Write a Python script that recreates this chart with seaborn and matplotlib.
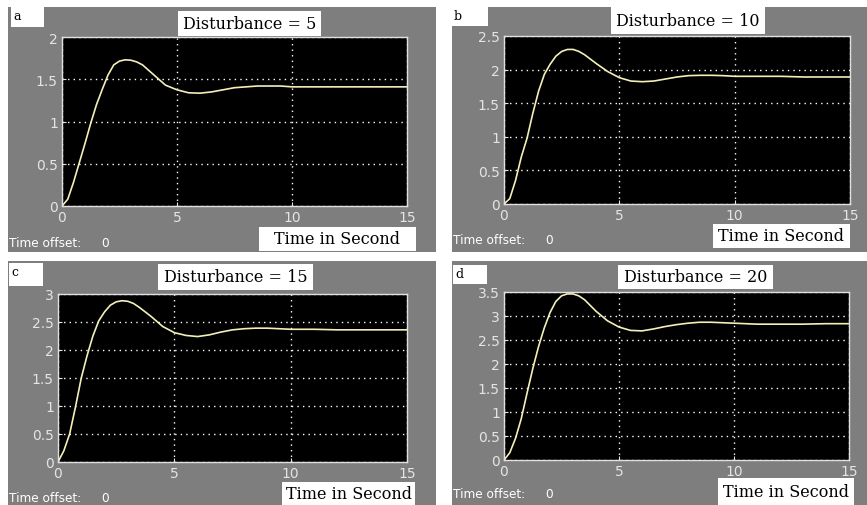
import pandas as pd
import matplotlib
matplotlib.use("Agg")
import matplotlib.pyplot as plt
from matplotlib.patches import Rectangle
import seaborn as sns

# values
time_s = [0, 0.25, 0.5, 0.75, 1, 1.25, 1.5, 1.75, 2, 2.25, 2.5, 2.75, 3, 3.25, 3.5,
          4, 4.5, 5, 5.5, 6, 6.5, 7, 7.5, 8, 8.5, 9, 9.5, 10, 11, 12, 13, 14, 15]
resp_d5 = [0, 0.08, 0.28, 0.51, 0.74, 0.98, 1.2, 1.38, 1.55, 1.67, 1.715, 1.73, 1.725, 1.705, 1.67,
           1.55, 1.43, 1.375, 1.34, 1.335, 1.35, 1.375, 1.4, 1.41, 1.42, 1.42, 1.42, 1.41, 1.41, 1.41, 1.41, 1.41, 1.41]
resp_d10 = [0, 0.08, 0.35, 0.7, 0.98, 1.35, 1.68, 1.93, 2.08, 2.2, 2.27, 2.3, 2.3, 2.27, 2.22,
            2.09, 1.97, 1.88, 1.83, 1.82, 1.83, 1.86, 1.89, 1.91, 1.915, 1.915, 1.91, 1.9, 1.9, 1.9, 1.89, 1.89, 1.89]
resp_d15 = [0, 0.2, 0.5, 0.98, 1.5, 1.9, 2.25, 2.52, 2.68, 2.8, 2.86, 2.88, 2.87, 2.83, 2.76,
            2.6, 2.42, 2.31, 2.26, 2.24, 2.27, 2.32, 2.36, 2.38, 2.39, 2.39, 2.38, 2.37, 2.37, 2.36, 2.36, 2.36, 2.36]
resp_d20 = [0, 0.15, 0.45, 0.86, 1.39, 1.9, 2.36, 2.75, 3.07, 3.3, 3.42, 3.46, 3.46, 3.42, 3.34,
            3.1, 2.9, 2.77, 2.7, 2.69, 2.73, 2.78, 2.82, 2.85, 2.87, 2.87, 2.86, 2.85, 2.83, 2.83, 2.83, 2.84, 2.84]

panel_letters = ["a", "b", "c", "d"]
panel_titles = ["Disturbance = 5", "Disturbance = 10", "Disturbance = 15", "Disturbance = 20"]
x_ticks = [0, 5, 10, 15]
y_ticks = [
    [0, 0.5, 1, 1.5, 2],
    [0, 0.5, 1, 1.5, 2, 2.5],
    [0, 0.5, 1, 1.5, 2, 2.5, 3],
    [0, 0.5, 1, 1.5, 2, 2.5, 3, 3.5],
]
y_ticklabels = [[("%g" % v) for v in ticks] for ticks in y_ticks]
responses = [resp_d5, resp_d10, resp_d15, resp_d20]

W, H = 867, 506
fig = plt.figure(figsize=(W / 100, H / 100), dpi=100)
fig.patch.set_facecolor("white")

# pixel boxes (left, top, right, bottom)
grey_boxes = [(8, 8, 436, 253), (452, 8, 867, 253), (8, 262, 436, 506), (452, 262, 867, 506)]
axes_boxes = [(62, 38, 407, 207), (504, 37, 850, 205), (58, 295, 407, 463), (504, 293, 849, 461)]
letter_boxes = [(11, 8, 44, 28), (452, 8, 488, 27), (9, 264, 43, 287), (453, 266, 487, 285)]
title_boxes = [(178, 12, 321, 37), (611, 8, 765, 35), (158, 265, 313, 291), (618, 266, 773, 290)]
xlabel_boxes = [(259, 228, 416, 252), (713, 225, 850, 249), (282, 483, 415, 506), (718, 479, 854, 506)]


def rect(box, color):
    l, t, r, b = box
    fig.add_artist(Rectangle((l / W, 1 - b / H), (r - l) / W, (b - t) / H,
                             transform=fig.transFigure, facecolor=color,
                             edgecolor="none", zorder=0))


def centre(box):
    l, t, r, b = box
    return (l + r) / 2 / W, 1 - (t + b) / 2 / H


serif = "DejaVu Serif"

for i in range(4):
    rect(grey_boxes[i], "#7e7e7e")
    rect(letter_boxes[i], "white")
    rect(title_boxes[i], "white")
    rect(xlabel_boxes[i], "white")

    l, t, r, b = axes_boxes[i]
    ax = fig.add_axes([l / W, 1 - b / H, (r - l) / W, (b - t) / H])
    df = pd.DataFrame({"t": time_s, "y": responses[i]})
    sns.lineplot(data=df, x="t", y="y", ax=ax, color="#f2f0b8", linewidth=1.2)
    ax.set_facecolor("black")
    ax.set_xlim(0, 15)
    ax.set_ylim(y_ticks[i][0], y_ticks[i][-1])
    ax.set_xticks(x_ticks)
    ax.set_xticklabels([str(v) for v in x_ticks])
    ax.set_yticks(y_ticks[i])
    ax.set_yticklabels(y_ticklabels[i])
    ax.set_xlabel("")
    ax.set_ylabel("")
    ax.grid(True, color="white", linestyle=(0, (1, 3)), linewidth=1.0)
    ax.tick_params(colors="#e4e4e4", labelsize=10, length=3, direction="in", pad=3)
    for sp in ax.spines.values():
        sp.set_color("#e0e0e0")
        sp.set_linewidth(1.0)

    lx, ly = letter_boxes[i][0], letter_boxes[i][1]
    fig.text((lx + 2) / W, 1 - (ly + 9) / H, panel_letters[i], family=serif,
             fontsize=9, color="black", ha="left", va="center")
    cx, cy = centre(title_boxes[i])
    fig.text(cx, cy, panel_titles[i], family=serif, fontsize=11.5,
             color="black", ha="center", va="center")
    cx, cy = centre(xlabel_boxes[i])
    fig.text(cx, cy, "Time in Second", family=serif, fontsize=11.5,
             color="black", ha="center", va="center")
    gx = grey_boxes[i][0] + 1
    gy = xlabel_boxes[i][1] + 16
    fig.text(gx / W, 1 - gy / H, "Time offset:", fontsize=8.7, color="white",
             ha="left", va="center")
    fig.text((gx + 92) / W, 1 - gy / H, "0", fontsize=8.7, color="white",
             ha="left", va="center")

fig.savefig("out.png", dpi=100, facecolor="white")
